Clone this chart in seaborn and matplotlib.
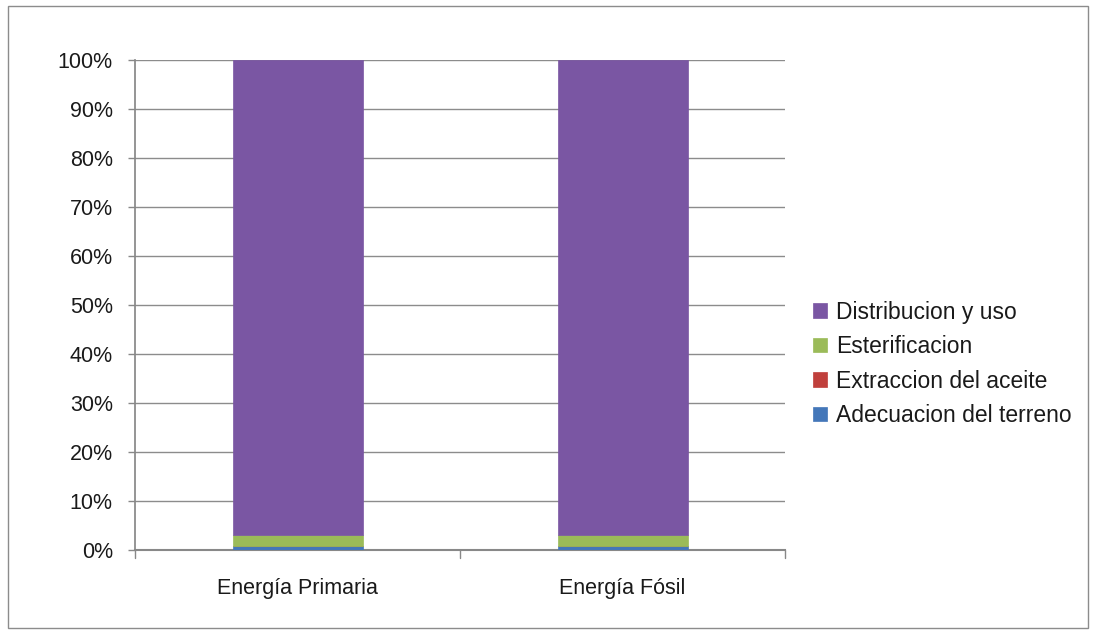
import matplotlib
matplotlib.use("Agg")
import matplotlib.pyplot as plt
import seaborn as sns
import pandas as pd
import numpy as np
from matplotlib.ticker import PercentFormatter

categories = ["Energía Primaria", "Energía Fósil"]
series_names = ["Adecuacion del terreno", "Extraccion del aceite", "Esterificacion", "Distribucion y uso"]
adecuacion = [0.8, 0.8]
extraccion = [0.1, 0.1]
esterificacion = [2.1, 2.1]
distribucion = [97.0, 97.0]
colors = ["#4477b9", "#c0403c", "#9bbb59", "#7a56a3"]

sns.set_theme(style="white")
plt.rcParams['font.family'] = ['Liberation Sans', 'DejaVu Sans']

rows = []
for name, vals in zip(series_names, [adecuacion, extraccion, esterificacion, distribucion]):
    for c, v in zip(categories, vals):
        rows.append({"cat": c, "serie": name, "val": v})
df = pd.DataFrame(rows)

fig = plt.figure(figsize=(10.97, 6.34), dpi=100)
ax = fig.add_axes([135/1097, 1 - 550/634, 650/1097, 490/634])

bottom = np.zeros(len(categories))
handles = []
for name, col in zip(series_names, colors):
    sub = df[df.serie == name].set_index("cat").loc[categories]
    bars = ax.bar(range(len(categories)), sub["val"].values, width=0.4, bottom=bottom,
                  color=col, edgecolor=col, linewidth=0.5, label=name, zorder=3)
    bottom += sub["val"].values
    handles.append(bars)

ax.set_xlim(-0.5, 1.5)
ax.set_ylim(0, 100)
ax.set_yticks(np.arange(0, 101, 10))
ax.yaxis.set_major_formatter(PercentFormatter(decimals=0))
ax.set_xticks(range(len(categories)))
ax.set_xticklabels(categories, fontsize=15.5, color="#1a1a1a")
ax.tick_params(axis='y', labelsize=15.5, labelcolor="#1a1a1a", length=5, width=1,
               color="#888888", direction="out", left=True, pad=11)
ax.tick_params(axis='x', length=0, bottom=False, pad=20)
ax.grid(axis='y', color="#8c8c8c", linewidth=1, zorder=0)
for s in ["top", "right"]:
    ax.spines[s].set_visible(False)
ax.spines["left"].set_color("#888888")
ax.spines["bottom"].set_color("#888888")
ax.spines["bottom"].set_linewidth(1.5)
for xb in [-0.5, 0.5, 1.5]:
    ax.plot([xb, xb], [0, -1.6], color="#888888", lw=1, clip_on=False)

leg = ax.legend(handles=handles[::-1], labels=series_names[::-1], loc="center left",
                bbox_to_anchor=(1.029, 0.38), frameon=False, fontsize=16.5,
                handlelength=0.6, handleheight=0.6, handletextpad=0.4, labelspacing=0.5,
                borderaxespad=0)
for t in leg.get_texts():
    t.set_color("#1a1a1a")

fig.patches.append(plt.Rectangle((8/1097, 6/634), 1080/1097, 622/634, transform=fig.transFigure,
                                 fill=False, edgecolor="#8c8c8c", linewidth=1))
fig.savefig("out.png", dpi=100)
